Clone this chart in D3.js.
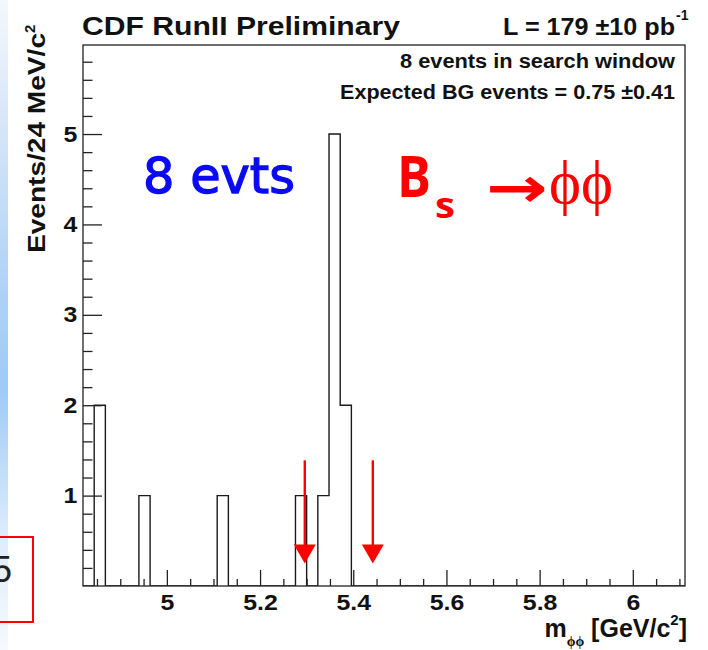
<!DOCTYPE html>
<html>
<head>
<meta charset="utf-8">
<script src="https://cdn.jsdelivr.net/npm/d3@7"></script>
<style>
	body { margin: 0; background: #fff; }
	svg { display: block; }
</style>
</head>
<body>
<div id="chart"></div>
<script>

// histogram binning (24 MeV bins)
var binStart = 4.82,
	binWidth = 0.024,
	binCount = 54;

// filled bins: bin centres and number of events
var binCenters = [4.856, 4.952, 5.12, 5.288, 5.336, 5.36, 5.384];
var binEvents = [2, 1, 1, 1, 1, 5, 2];

// search window edges (red arrows)
var windowEdges = [5.296, 5.442];

// axis ticks
var xMajor = [5, 5.2, 5.4, 5.6, 5.8, 6];
var yMajor = [1, 2, 3, 4, 5];

var bold = "'Liberation Sans', Arial, Helvetica, sans-serif";

function styleAxis(s) {
	s.select(".domain").remove();
	s.selectAll("line").attr("stroke", "#222").attr("stroke-width", 1.3);
	s.selectAll("text")
		.style("font-family", bold)
		.style("font-weight", "bold")
		.style("font-size", "22px")
		.attr("fill", "#111")
		.attr("transform", "scale(1.13,1)");
}

function makePlot() {

	var W = 708, H = 650;
	var margin = {top: 45, right: 23, bottom: 64, left: 83};
	var width = W - margin.left - margin.right,
		height = H - margin.top - margin.bottom;

	var svg = d3.select("#chart")
		.append("svg")
		.attr("width", W)
		.attr("height", H);

	// left slide stripe
	var grad = svg.append("defs").append("linearGradient")
		.attr("id", "stripe")
		.attr("x1", 0).attr("y1", 0).attr("x2", 0).attr("y2", 1);
	[[0, "#f4f8fd"], [0.15, "#dde9f8"], [0.45, "#aed2f6"], [0.6, "#9ecbf5"], [0.82, "#dcebfb"], [1, "#f6f9fd"]]
		.forEach(function (s) {
			grad.append("stop").attr("offset", s[0]).attr("stop-color", s[1]);
		});
	svg.append("rect")
		.attr("x", 0).attr("y", 0)
		.attr("width", 8).attr("height", H)
		.attr("fill", "url(#stripe)");

	// leftover box from the slide
	svg.append("text")
		.attr("x", -8).attr("y", 582)
		.style("font-family", "'Liberation Sans', Arial, sans-serif")
		.style("font-size", "36px")
		.attr("fill", "#222")
		.text("5");
	svg.append("rect")
		.attr("x", -2).attr("y", 537)
		.attr("width", 35).attr("height", 85)
		.attr("fill", "none")
		.attr("stroke", "#f00")
		.attr("stroke-width", 2);

	var g = svg.append("g")
		.attr("transform", "translate(" + margin.left + "," + margin.top + ")");

	// scales
	var x = d3.scaleLinear()
		.domain([4.82, 6.112])
		.range([0, width]);

	var y = d3.scaleLinear()
		.domain([0, 5.985])
		.range([height, 0]);

	// build histogram counts
	var counts = d3.range(binCount).map(function () { return 0; });
	binCenters.forEach(function (c, i) {
		var k = Math.floor((c - binStart) / binWidth);
		counts[k] = binEvents[i];
	});
	var steps = counts.map(function (n, k) {
		return {lo: binStart + k * binWidth, n: n};
	});
	steps.push({lo: binStart + binCount * binWidth, n: 0});

	g.append("clipPath").attr("id", "frame")
		.append("rect").attr("width", width).attr("height", height);

	var line = d3.line()
		.x(function (d) { return x(d.lo); })
		.y(function (d) { return y(d.n); })
		.curve(d3.curveStepAfter);

	g.append("path")
		.datum(steps)
		.attr("clip-path", "url(#frame)")
		.attr("d", line)
		.attr("fill", "none")
		.attr("stroke", "#1a1a1a")
		.attr("stroke-width", 1.4);

	// frame
	g.append("rect")
		.attr("width", width).attr("height", height)
		.attr("fill", "none")
		.attr("stroke", "#222")
		.attr("stroke-width", 1.3);

	// X axis (ticks inside)
	var xAxis = d3.axisBottom(x)
		.tickValues(xMajor)
		.tickSize(-16)
		.tickPadding(8)
		.tickFormat(d3.format("~g"));
	var xMinor = d3.axisBottom(x)
		.tickValues(d3.range(4.85, 6.12, 0.05).filter(function (v) {
			return Math.abs(v * 5 - Math.round(v * 5)) > 1e-6;
		}))
		.tickSize(-7)
		.tickFormat("");

	g.append("g")
		.attr("transform", "translate(0," + height + ")")
		.call(xAxis)
		.call(styleAxis);
	g.append("g")
		.attr("transform", "translate(0," + height + ")")
		.call(xMinor)
		.call(styleAxis);

	// Y axis (ticks inside)
	var yAxis = d3.axisLeft(y)
		.tickValues(yMajor)
		.tickSize(-19)
		.tickPadding(5)
		.tickFormat(d3.format("d"));
	var yMinor = d3.axisLeft(y)
		.tickValues(d3.range(0.2, 5.9, 0.2).filter(function (v) {
			return Math.abs(v - Math.round(v)) > 1e-6;
		}))
		.tickSize(-9.5)
		.tickFormat("");

	g.append("g")
		.call(yAxis)
		.call(styleAxis);
	g.append("g")
		.call(yMinor)
		.call(styleAxis);

	// search window arrows
	var arrows = g.append("g").selectAll("g")
		.data(windowEdges)
		.enter()
		.append("g")
		.attr("transform", function (d) { return "translate(" + x(d) + ",0)"; });
	arrows.append("line")
		.attr("x1", 0).attr("x2", 0)
		.attr("y1", y(1.39)).attr("y2", y(0.3))
		.attr("stroke", "#f00")
		.attr("stroke-width", 2.4);
	arrows.append("path")
		.attr("d", "M-11," + y(0.46) + "L11," + y(0.46) + "L0," + y(0.25) + "Z")
		.attr("fill", "#f00");

	// title + luminosity
	svg.append("text")
		.attr("x", 82).attr("y", 35)
		.attr("textLength", 318).attr("lengthAdjust", "spacingAndGlyphs")
		.style("font-family", bold).style("font-weight", "bold").style("font-size", "25px")
		.attr("fill", "#111")
		.text("CDF RunII Preliminary");
	svg.append("text")
		.attr("x", 503).attr("y", 35)
		.attr("textLength", 172).attr("lengthAdjust", "spacingAndGlyphs")
		.style("font-family", bold).style("font-weight", "bold").style("font-size", "24px")
		.attr("fill", "#111")
		.text("L = 179 \u00b110 pb");
	svg.append("text")
		.attr("x", 676).attr("y", 20)
		.style("font-family", bold).style("font-weight", "bold").style("font-size", "14px")
		.attr("fill", "#111")
		.text("-1");

	// stat box text
	svg.append("text")
		.attr("x", 675).attr("y", 68)
		.attr("text-anchor", "end")
		.attr("textLength", 275).attr("lengthAdjust", "spacingAndGlyphs")
		.style("font-family", bold).style("font-weight", "bold").style("font-size", "20px")
		.attr("fill", "#111")
		.text("8 events in search window");
	svg.append("text")
		.attr("x", 675).attr("y", 99)
		.attr("text-anchor", "end")
		.attr("textLength", 335).attr("lengthAdjust", "spacingAndGlyphs")
		.style("font-family", bold).style("font-weight", "bold").style("font-size", "20px")
		.attr("fill", "#111")
		.text("Expected BG events = 0.75 \u00b10.41");

	// Y axis title
	var yt = svg.append("text")
		.attr("transform", "translate(45,253) rotate(-90)")
		.style("font-family", bold).style("font-weight", "bold").style("font-size", "24px")
		.attr("fill", "#111");
	yt.append("tspan")
		.attr("textLength", 220).attr("lengthAdjust", "spacingAndGlyphs")
		.text("Events/24 MeV/c");
	yt.append("tspan")
		.attr("dy", -10).style("font-size", "15px")
		.text("2");

	// X axis title
	var xt = svg.append("text")
		.attr("x", 687).attr("y", 637)
		.attr("text-anchor", "end")
		.style("font-family", bold).style("font-weight", "bold").style("font-size", "25px")
		.attr("fill", "#111");
	xt.append("tspan").text("m");
	xt.append("tspan").attr("dy", 9).style("font-size", "14px").style("font-family", "'Liberation Serif', serif").text("\u03d5\u03d5");
	xt.append("tspan").attr("dy", -9).text(" [GeV/c");
	xt.append("tspan").attr("dy", -12).style("font-size", "15px").text("2");
	xt.append("tspan").attr("dy", 12).text("]");

	// annotations
	var hand = "'Comic Sans MS', 'DejaVu Sans', sans-serif";
	svg.append("text")
		.attr("x", 143).attr("y", 193)
		.attr("textLength", 152).attr("lengthAdjust", "spacingAndGlyphs")
		.style("font-family", hand).style("font-size", "50px")
		.attr("fill", "#0a0af5")
		.attr("stroke", "#0a0af5")
		.attr("stroke-width", 1.3)
		.text("8 evts");

	var round = "'Comic Sans MS', 'Open Sans', 'Noto Sans', sans-serif";
	svg.append("text")
		.attr("x", 397).attr("y", 197)
		.attr("textLength", 34).attr("lengthAdjust", "spacingAndGlyphs")
		.style("font-family", round).style("font-weight", "bold").style("font-size", "57px")
		.attr("fill", "#f00")
		.text("B");
	svg.append("text")
		.attr("x", 435).attr("y", 218)
		.attr("textLength", 20).attr("lengthAdjust", "spacingAndGlyphs")
		.style("font-family", round).style("font-weight", "bold").style("font-size", "36px")
		.attr("fill", "#f00")
		.text("s");
	svg.append("text")
		.attr("x", 486).attr("y", 207)
		.attr("textLength", 62).attr("lengthAdjust", "spacingAndGlyphs")
		.style("font-family", "'DejaVu Sans', sans-serif").style("font-weight", "bold").style("font-size", "56px")
		.attr("fill", "#f00")
		.text("\u2192");
	svg.append("text")
		.attr("x", 549).attr("y", 203)
		.attr("textLength", 64).attr("lengthAdjust", "spacingAndGlyphs")
		.style("font-family", "'Liberation Serif', serif").style("font-size", "62px")
		.attr("fill", "#f00")
		.text("\u03d5\u03d5");
}

makePlot();
</script>
</body>
</html>
